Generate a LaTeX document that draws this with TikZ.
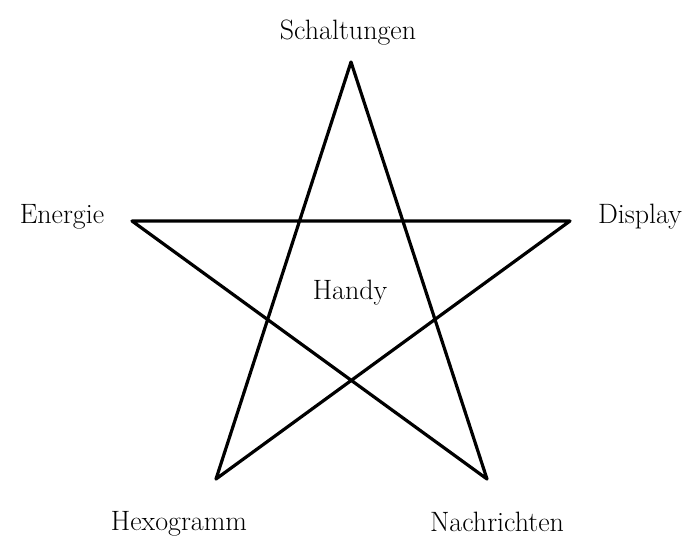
\documentclass[tikz,border=0pt]{standalone}
\begin{document}
\begin{tikzpicture}[x=1pt,y=-1pt,
  lbl/.style={inner sep=0pt, font=\fontsize{28}{30}\selectfont},
  starline/.style={line width=3.2pt, line join=round}]
\useasboundingbox (0,0) rectangle (684,545);
\coordinate (T) at (351,62);
\coordinate (L) at (132,221);
\coordinate (R) at (570,221);
\coordinate (BL) at (216,479);
\coordinate (BR) at (487,479);
\draw[starline] (T) -- (BL) -- (R) -- (L) -- (BR) -- cycle;
\node[lbl] (s) at (348,33) {Schaltungen};
\node[lbl] (e) at (62,217) {Energie};
\node[lbl] (d) at (640,217) {Display};
\node[lbl] (h) at (350,293) {Handy};
\node[lbl] (x) at (179,524) {Hexogramm};
\node[lbl] (n) at (497,522) {Nachrichten};
\end{tikzpicture}
\end{document}
